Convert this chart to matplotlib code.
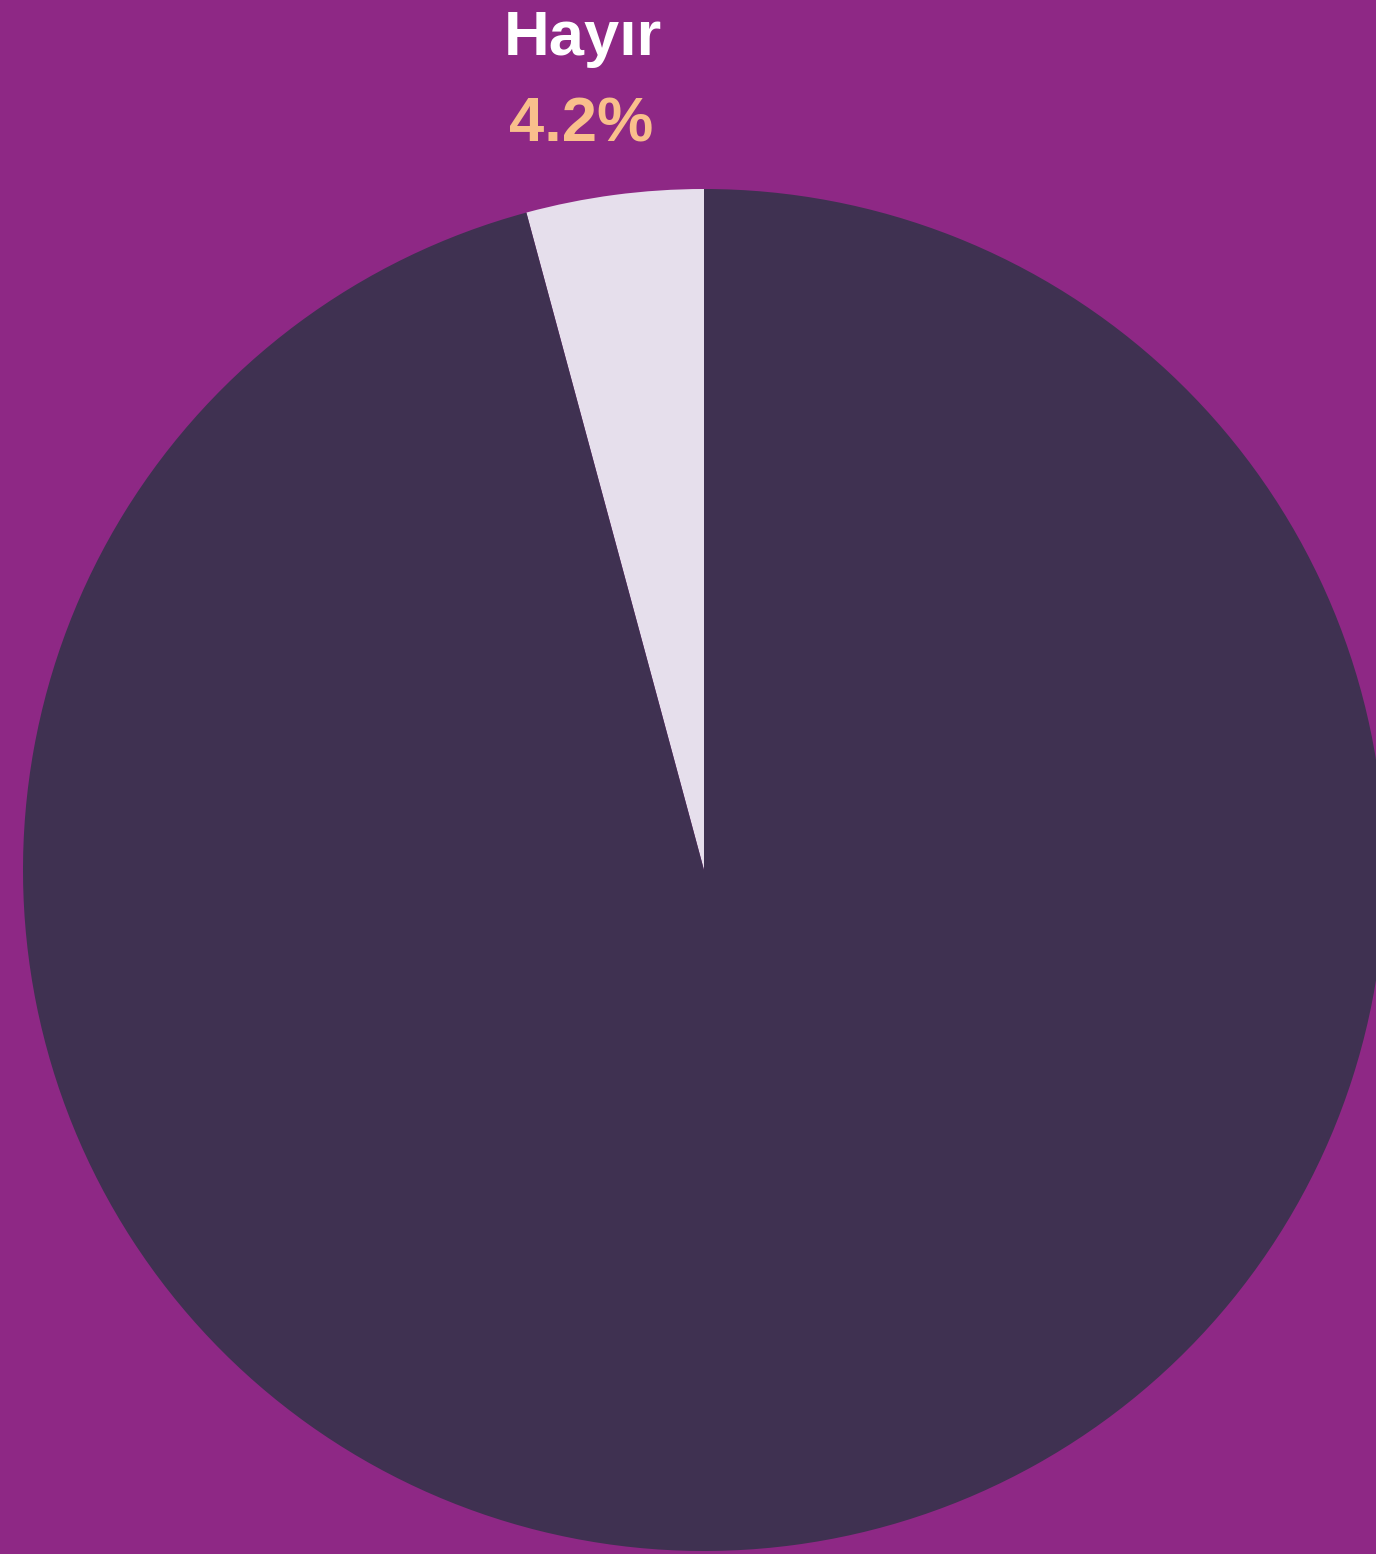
import matplotlib.pyplot as plt

labels = ['Hayır', 'Evet']
values = [4.2, 95.8]
colors = ['#E6DFEC', '#3F3151']
bg = '#8E2885'

W, H = 1376, 1554
fig = plt.figure(figsize=(W / 100, H / 100), dpi=100, facecolor=bg)
ax = fig.add_axes([0, 0, 1, 1])
ax.set_facecolor(bg)
ax.axis('off')

# pie in pixel coordinates (y up)
ax.pie(values, colors=colors, startangle=90, counterclock=True,
       center=(704, H - 870), radius=681,
       wedgeprops=dict(linewidth=0))
ax.set_xlim(0, W)
ax.set_ylim(0, H)
ax.set_aspect('equal')

# label of the small slice
ax.text(582.5, H - 55, labels[0], ha='center', va='baseline',
        fontsize=45.5, fontweight='bold', color='white',
        family='Liberation Sans')
ax.text(581, H - 142, f'{values[0]:.1f}%', ha='center', va='baseline',
        fontsize=45.5, fontweight='bold', color='#F9BF8C',
        family='Liberation Sans')

fig.savefig('out.png', dpi=100, facecolor=bg)
